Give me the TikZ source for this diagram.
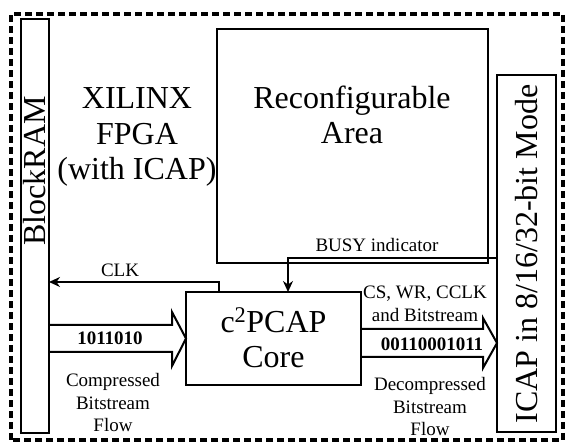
\documentclass[tikz,border=0pt]{standalone}
\usepackage{fontspec}
\setmainfont{Liberation Serif}
\usetikzlibrary{arrows.meta}
\tikzset{
  big/.style={font=\fontsize{32}{35.5}\selectfont, align=center, inner sep=0pt},
  small/.style={font=\fontsize{19}{22.5}\selectfont, align=center, inner sep=0pt},
  blk/.style={draw, line width=1.8pt},
  sig/.style={draw, line width=2pt, -{Stealth[length=11pt,width=10pt]}},
  fat/.style={draw, line width=2pt, line join=miter},
}
\begin{document}
\begin{tikzpicture}[x=1pt,y=1pt]
\useasboundingbox (0,0) rectangle (567,446);
% outer dashed border
\draw[line width=3.5pt, dash pattern=on 7pt off 4pt] (11,6) rectangle (563,432);
% boxes
\draw[blk] (21,13) rectangle (49,427);
\node[big, rotate=90] (bram) at (35,275) {BlockRAM};
\coordinate (bramE) at (49,164);
\draw[blk] (217,183) rectangle (488,417);
\node[big] (reconf) at (352,331) {Reconfigurable\\Area};
\node[big] (xil) at (137,309) {XILINX\\FPGA\\(with ICAP)};
\draw[blk] (497,14) rectangle (556,371);
\node[big, rotate=90] (icap) at (527,192) {ICAP in 8/16/32-bit Mode};
\node[blk, minimum width=175pt, minimum height=93pt, inner sep=0pt] (core) at (273.5,107.5) {};
\node[big] (coret) at (273.5,108) {c\textsuperscript{2}PCAP\\Core};
% CLK
\coordinate (clkA) at (219,154);
\coordinate (clkB) at (219,164);
\draw[sig] (clkA) -- (clkB) -- (bramE);
\node[small] (clk) at (120,176) {CLK};
% BUSY
\coordinate (busyA) at (497,188);
\coordinate (busyB) at (288,188);
\coordinate (busyC) at (288,154);
\draw[sig] (busyA) -- (busyB) -- (busyC);
\node[small] (busy) at (377,201) {BUSY indicator};
% left fat arrow
\draw[fat] (49,121) -- (172,121) -- (172,134) -- (186,107.5) -- (172,80) -- (172,94) -- (49,94);
\node[small, font=\fontsize{19}{22.5}\selectfont\bfseries] (lbits) at (110,108) {1011010};
\node[small] (lflow) at (113,43) {Compressed\\Bitstream\\Flow};
% right fat arrow
\draw[fat] (361,117) -- (483,117) -- (483,128) -- (497,103) -- (483,78) -- (483,89) -- (361,89);
\node[small, font=\fontsize{19}{22.5}\selectfont\bfseries] (rbits) at (432,102) {00110001011};
\node[small] (rsig) at (425,142) {CS, WR, CCLK\\and Bitstream};
\node[small] (rflow) at (430,39) {Decompressed\\Bitstream\\Flow};
\end{tikzpicture}
\end{document}
